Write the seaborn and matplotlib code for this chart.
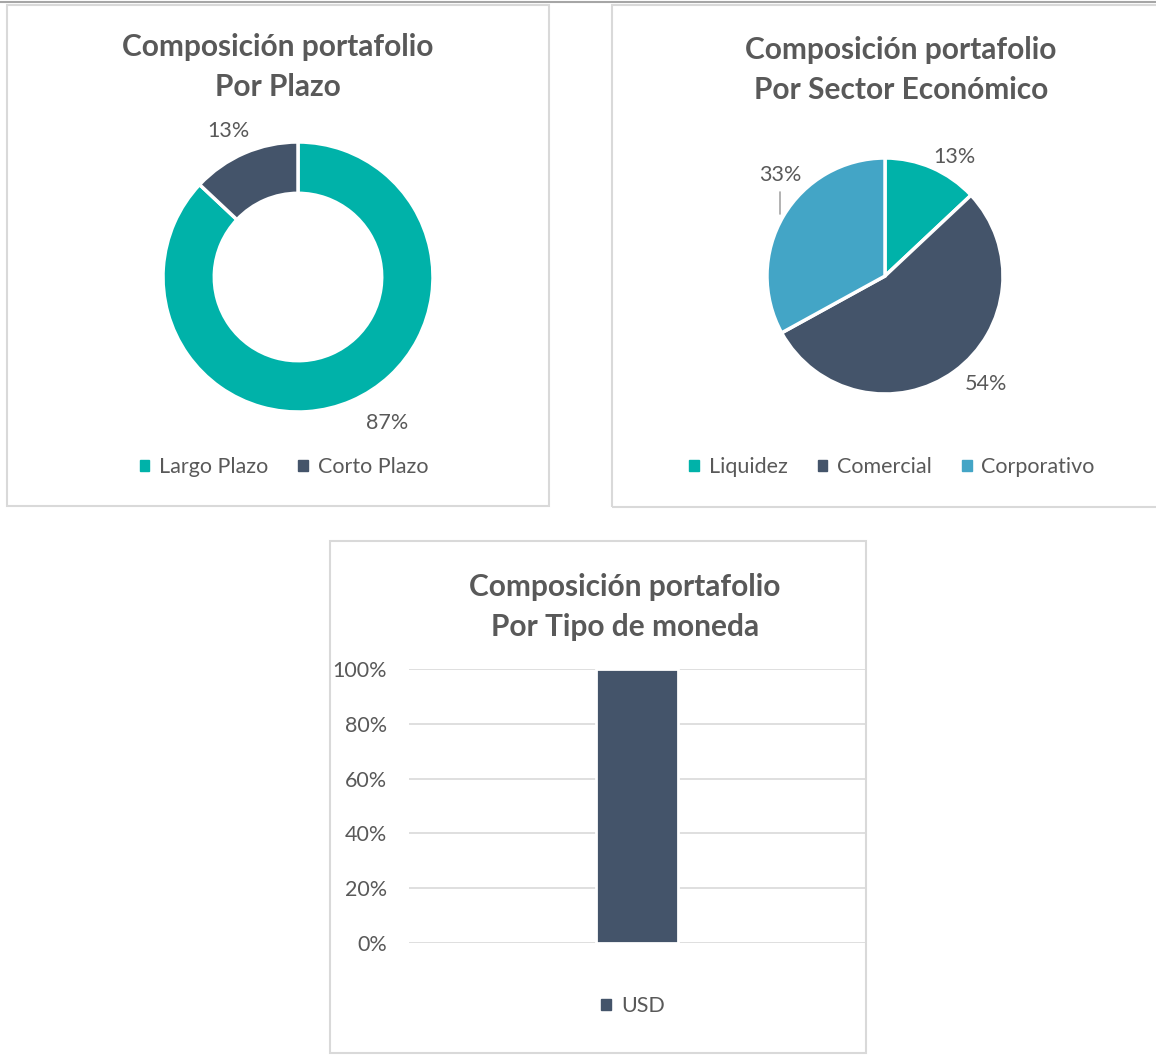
import matplotlib.pyplot as plt
import numpy as np
import pandas as pd
import seaborn as sns
from matplotlib.lines import Line2D
from matplotlib.patches import Patch, Rectangle

# Data
plazo_labels = ["Largo Plazo", "Corto Plazo"]
plazo_values = [87, 13]

sector_labels = ["Liquidez", "Comercial", "Corporativo"]
sector_values = [13, 54, 33]

moneda_labels = ["USD"]
moneda_values = [1.0]
moneda_ticks = [0, 0.2, 0.4, 0.6, 0.8, 1.0]

# Colors
TEAL = "#00B2A9"
NAVY = "#44546A"
BLUE = "#43A5C6"
TEXT = "#595959"
GRID = "#D9D9D9"

sns.set_theme(style="white")
plt.rcParams["font.family"] = ["Lato", "DejaVu Sans"]

W, H = 1156, 1055
fig = plt.figure(figsize=(W / 100, H / 100), dpi=100)


def box(x0, y0, x1, y1):
    # pixel box (top-left origin) -> figure rect
    return [x0 / W, 1 - y1 / H, (x1 - x0) / W, (y1 - y0) / H]


def fx(x):
    return x / W


def fy(y):
    return 1 - y / H


# panel frames and top rule
for x0, y0, x1, y1 in [(7, 5, 549, 506), (612, 5, 1170, 507), (330, 541, 866, 1053)]:
    fig.patches.append(Rectangle((fx(x0), fy(y1)), (x1 - x0) / W, (y1 - y0) / H,
                                 transform=fig.transFigure, fill=False,
                                 edgecolor=GRID, linewidth=1.5))
fig.lines.append(Line2D([0, 1], [fy(1.5), fy(1.5)], transform=fig.transFigure,
                        color="#A6A6A6", linewidth=1.5))

LABEL_SIZE = 15.5
TITLE_KW = dict(ha="center", va="center", fontsize=21.5, fontweight="bold",
                color=TEXT, linespacing=1.5)
LEG_KW = dict(loc="center", frameon=False, fontsize=LABEL_SIZE, handlelength=0.45,
              handleheight=0.45, handletextpad=0.45, columnspacing=1.4,
              labelcolor=TEXT)


def place_labels(ax, wedges, values, dists, shifts):
    for w, v, d, s in zip(wedges, values, dists, shifts):
        ang = np.deg2rad((w.theta1 + w.theta2) / 2 + s)
        ax.text(d * np.cos(ang), d * np.sin(ang), f"{v}%", ha="center",
                va="center", fontsize=LABEL_SIZE, color=TEXT)


# --- Donut: Por Plazo ---
fig.text(fx(278), fy(67), "Composición portafolio\nPor Plazo", **TITLE_KW)
ax1 = fig.add_axes(box(163, 142, 433, 412))
w1, _ = ax1.pie(plazo_values, colors=[TEAL, NAVY], startangle=90, counterclock=False,
                radius=1, wedgeprops=dict(width=0.38, edgecolor="white", linewidth=2.5))
ax1.set_xlim(-1, 1)
ax1.set_ylim(-1, 1)
place_labels(ax1, w1, plazo_values, [1.27, 1.2], [8, 2])
fig.legend([Patch(color=TEAL), Patch(color=NAVY)], plazo_labels, ncol=2,
           bbox_to_anchor=(fx(284), fy(467)), **LEG_KW)

# --- Pie: Por Sector Economico ---
fig.text(fx(901), fy(70), "Composición portafolio\nPor Sector Económico", **TITLE_KW)
ax2 = fig.add_axes(box(767, 158, 1003, 394))
w2, _ = ax2.pie(sector_values, colors=[TEAL, NAVY, BLUE], startangle=90, counterclock=False,
                radius=1, wedgeprops=dict(edgecolor="white", linewidth=2.5))
ax2.set_xlim(-1, 1)
ax2.set_ylim(-1, 1)
place_labels(ax2, w2[:2], sector_values[:2], [1.17, 1.25], [-7, 7])
# leader line for the last slice
w = w2[2]
ang = np.deg2rad((w.theta1 + w.theta2) / 2)
ex, ey = 1.03 * np.cos(ang), 1.03 * np.sin(ang)
ax2.plot([ex, ex], [ey, ey + 0.19], color="#A6A6A6", lw=1.2, clip_on=False)
ax2.text(ex, ey + 0.33, f"{sector_values[2]}%", ha="center", va="center",
         fontsize=LABEL_SIZE, color=TEXT)
fig.legend([Patch(color=c) for c in [TEAL, NAVY, BLUE]], sector_labels, ncol=3,
           bbox_to_anchor=(fx(892), fy(467)), **LEG_KW)

# --- Bar: Por Tipo de moneda ---
fig.text(fx(625), fy(607), "Composición portafolio\nPor Tipo de moneda", **TITLE_KW)
ax3 = fig.add_axes(box(409, 669, 865, 943))
df = pd.DataFrame({"moneda": moneda_labels, "valor": moneda_values})
sns.barplot(data=df, x="moneda", y="valor", color=NAVY, saturation=1, width=0.182,
            edgecolor="white", linewidth=2, ax=ax3)
ax3.set_xlim(-0.5, 0.5)
ax3.set_ylim(0, 1)
ax3.set_yticks(moneda_ticks)
ax3.set_yticklabels([f"{int(round(t * 100))}%" for t in moneda_ticks])
ax3.tick_params(axis="y", length=0, pad=16, labelsize=LABEL_SIZE, labelcolor=TEXT)
ax3.set_xticks([])
ax3.set_xlabel("")
ax3.set_ylabel("")
ax3.yaxis.grid(True, color=GRID, linewidth=1.2)
ax3.set_axisbelow(True)
for sp in ax3.spines.values():
    sp.set_visible(False)
fig.legend([Patch(color=NAVY)], moneda_labels, ncol=1,
           bbox_to_anchor=(fx(633), fy(1006)), **LEG_KW)

fig.savefig("out.png", dpi=100)
